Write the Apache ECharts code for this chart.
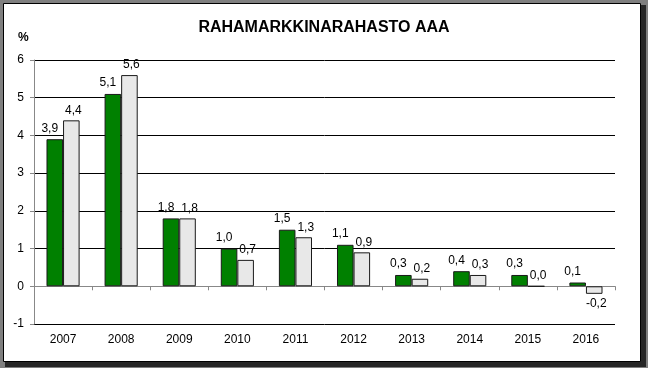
<!DOCTYPE html>
<html>
<head>
<meta charset="utf-8">
<script src="https://cdn.jsdelivr.net/npm/echarts@6/dist/echarts.min.js"></script>
<style>
html,body{margin:0;padding:0;background:#fff;}
#c{width:648px;height:368px;}
</style>
</head>
<body>
<div id="c"></div>
<script>
const titleText = 'RAHAMARKKINARAHASTO AAA';
const unitLabel = '%';
const categories = ['2007','2008','2009','2010','2011','2012','2013','2014','2015','2016'];
const seriesA = [3.9, 5.1, 1.8, 1.0, 1.5, 1.1, 0.3, 0.4, 0.3, 0.1];
const seriesB = [4.4, 5.6, 1.8, 0.7, 1.3, 0.9, 0.2, 0.3, 0.0, -0.2];
const yTicks = [-1, 0, 1, 2, 3, 4, 5, 6];

const fmt = v => v.toFixed(1).replace('.', ',');
function toData(arr){
  return arr.map(v => ({
    value: v,
    label: { position: v < 0 ? 'bottom' : 'top' }
  }));
}

const chart = echarts.init(document.getElementById('c'), null, {renderer:'canvas'});
const font = 'Arial, "Liberation Sans", sans-serif';
chart.setOption({
  animation: false,
  backgroundColor: '#7f7f7f',
  graphic: [
    { type:'rect', z:-10, shape:{x:5,y:5,width:641,height:362}, style:{fill:'#262626'} },
    { type:'rect', z:-9, shape:{x:3.5,y:3.5,width:637,height:358}, style:{fill:'#ffffff', stroke:'#000', lineWidth:1} },
    { type:'text', left:'center', top:20, style:{text:titleText, font:'bold 16px '+font, fill:'#000'} },
    { type:'text', left:18, top:32, style:{text:unitLabel, font:'bold 12px '+font, fill:'#000'} }
  ],
  grid: { left:34, right:33, top:60, bottom:44 },
  xAxis: [
    {
      type:'category', data:categories,
      axisLine:{ onZero:true, lineStyle:{color:'#888', width:1} },
      axisTick:{ show:true, inside:false, length:4, lineStyle:{color:'#888'} },
      axisLabel:{ show:false }
    },
    {
      type:'category', data:categories, position:'bottom',
      axisLine:{ show:false, onZero:false },
      axisTick:{ show:false },
      axisLabel:{ show:true, margin:10, fontSize:12, fontFamily:font, color:'#000' }
    }
  ],
  yAxis: {
    type:'value', min:yTicks[0], max:yTicks[yTicks.length-1], interval:1,
    axisLine:{ show:true, lineStyle:{color:'#888'} },
    axisTick:{ show:true, length:4, lineStyle:{color:'#888'} },
    axisLabel:{ margin:10, fontSize:12, fontFamily:font, color:'#000' },
    splitLine:{ show:true, lineStyle:{color:'#000', width:1} }
  },
  series: [
    {
      type:'bar', data:toData(seriesA), barWidth:'28.5%', barGap:'0%',
      itemStyle:{ color:'#008000', borderColor:'#1a1a1a', borderWidth:1 },
      label:{ show:true, distance:5, offset:[-5,0], fontSize:12, fontFamily:font, color:'#000', formatter:p => fmt(p.value) }
    },
    {
      type:'bar', data:toData(seriesB), barWidth:'28.5%', barGap:'0%',
      itemStyle:{ color:'#e8e8e8', borderColor:'#1a1a1a', borderWidth:1 },
      label:{ show:true, distance:4, offset:[2,0], fontSize:12, fontFamily:font, color:'#000', formatter:p => fmt(p.value) }
    }
  ]
});
</script>
</body>
</html>
